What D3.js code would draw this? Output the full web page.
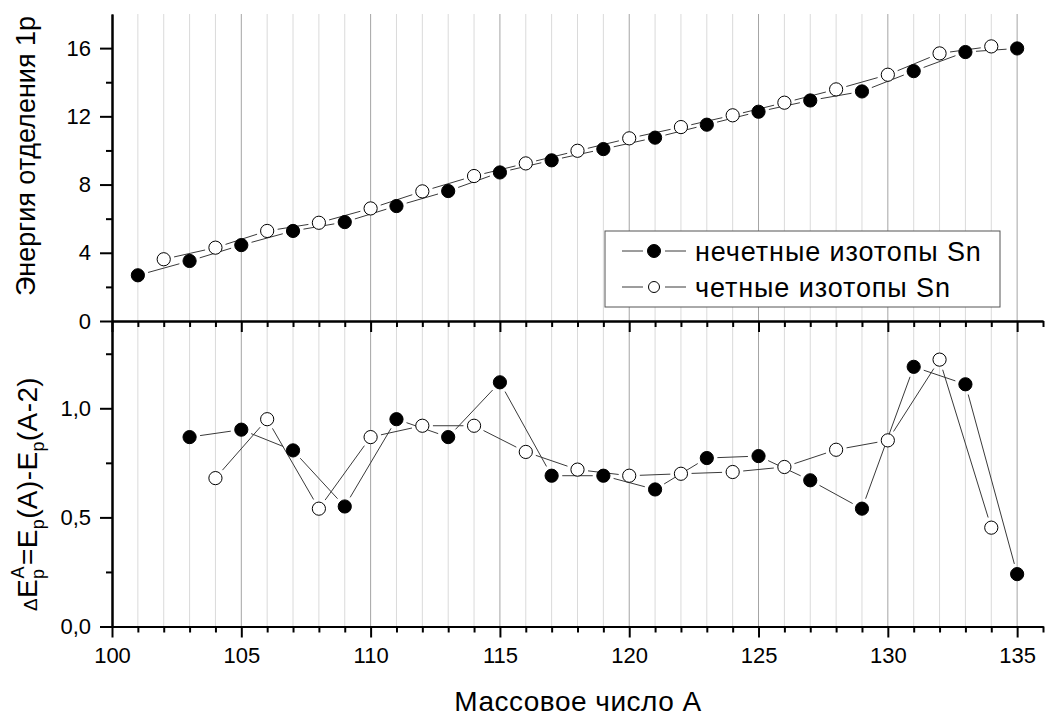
<!DOCTYPE html>
<html>
<head>
<meta charset="utf-8">
<script src="https://cdn.jsdelivr.net/npm/d3@7"></script>
<style>
  html, body { margin: 0; padding: 0; background: #fff; }
  svg { display: block; font-family: "Liberation Sans", Arial, sans-serif; }
</style>
</head>
<body>
<svg id="chart" width="1045" height="717"></svg>
<script>
// Mass numbers and one-proton separation energies (MeV) for Sn isotopes
const massOdd  = [101,103,105,107,109,111,113,115,117,119,121,123,125,127,129,131,133,135];
const sepOdd   = [2.68,3.52,4.45,5.28,5.80,6.74,7.62,8.71,9.42,10.08,10.75,11.51,12.27,12.93,13.46,14.65,15.77,15.98];
const massEven = [102,104,106,108,110,112,114,116,118,120,122,124,126,128,130,132,134];
const sepEven  = [3.62,4.30,5.28,5.76,6.60,7.60,8.50,9.24,9.98,10.71,11.37,12.06,12.80,13.58,14.44,15.69,16.10];

// Differences E_p(A) - E_p(A-2)
const diffMassOdd  = [103,105,107,109,111,113,115,117,119,121,123,125,127,129,131,133,135];
const diffOdd      = [0.868,0.902,0.807,0.550,0.950,0.868,1.119,0.691,0.691,0.628,0.772,0.781,0.670,0.540,1.190,1.110,0.240];
const diffMassEven = [104,106,108,110,112,114,116,118,120,122,124,126,128,130,132,134];
const diffEven     = [0.680,0.950,0.540,0.868,0.920,0.920,0.800,0.719,0.691,0.700,0.708,0.731,0.810,0.853,1.223,0.453];

// Axis ticks
const xMajor = [100,105,110,115,120,125,130,135];
const xMinor = d3.range(101,137).filter(v => v % 5 !== 0);
const yTopMajor = [0,4,8,12,16];
const yTopMinor = [2,6,10,14];
const yBotMajor = [0,0.5,1.0];
const yBotMinor = [0.25,0.75,1.25];

const legendLabels = ["нечетные изотопы Sn", "четные изотопы Sn"];

const svg = d3.select("#chart");
const x = d3.scaleLinear().domain([100,136]).range([112,1043]);
const yTop = d3.scaleLinear().domain([0,18]).range([321,14]);
const yBot = d3.scaleLinear().domain([0,1.4]).range([626.5,321]);

const R = 6.6, GAP = R + 4;
const comma = v => d3.format(".1f")(v).replace(".", ",");

// vertical grid through both panels
svg.append("g").selectAll("line")
  .data(d3.range(101,136))
  .join("line")
  .attr("x1", d => x(d)).attr("x2", d => x(d))
  .attr("y1", yTop(18)).attr("y2", yBot(0))
  .attr("stroke", d => d % 5 === 0 ? "#a4a4a4" : "#dadada")
  .attr("stroke-width", 1);

// polyline drawn as segments that stop short of the markers
function gappedLine(g, xs, ys, yScale) {
  const pts = xs.map((m, i) => [x(m), yScale(ys[i])]);
  const segs = [];
  for (let i = 0; i < pts.length - 1; i++) {
    const [x1,y1] = pts[i], [x2,y2] = pts[i+1];
    const len = Math.hypot(x2-x1, y2-y1);
    if (len <= 2*GAP) continue;
    const ux = (x2-x1)/len, uy = (y2-y1)/len;
    segs.push([x1+ux*GAP, y1+uy*GAP, x2-ux*GAP, y2-uy*GAP]);
  }
  g.append("g").selectAll("line").data(segs).join("line")
    .attr("x1", s => s[0]).attr("y1", s => s[1])
    .attr("x2", s => s[2]).attr("y2", s => s[3])
    .attr("stroke", "#3a3a3a").attr("stroke-width", 1);
}
function markers(g, xs, ys, yScale, filled) {
  g.append("g").selectAll("circle").data(xs).join("circle")
    .attr("cx", (m) => x(m))
    .attr("cy", (m, i) => yScale(ys[i]))
    .attr("r", R)
    .attr("fill", filled ? "#000" : "#fff")
    .attr("stroke", "#000").attr("stroke-width", 1);
}

const plot = svg.append("g");
gappedLine(plot, massOdd, sepOdd, yTop);
gappedLine(plot, massEven, sepEven, yTop);
gappedLine(plot, diffMassOdd, diffOdd, yBot);
gappedLine(plot, diffMassEven, diffEven, yBot);
markers(plot, massEven, sepEven, yTop, false);
markers(plot, massOdd, sepOdd, yTop, true);
markers(plot, diffMassEven, diffEven, yBot, false);
markers(plot, diffMassOdd, diffOdd, yBot, true);

// axes
function styleAxis(g) {
  g.selectAll(".domain").attr("stroke", "#000").attr("stroke-width", 2);
  g.selectAll(".tick line").attr("stroke", "#000").attr("stroke-width", 2);
  g.selectAll("text").attr("font-size", 22).attr("fill", "#000")
    .attr("font-family", "'Liberation Sans', Arial, sans-serif");
}
// top panel left axis
svg.append("g").attr("transform", "translate(112,0)")
  .call(d3.axisLeft(yTop).tickValues(yTopMinor).tickSize(6).tickFormat("").tickSizeOuter(0))
  .call(styleAxis);
svg.append("g").attr("transform", "translate(112,0)")
  .call(d3.axisLeft(yTop).tickValues(yTopMajor).tickSize(12).tickPadding(9).tickFormat(d3.format("d")).tickSizeOuter(0))
  .call(styleAxis);
// bottom panel left axis
svg.append("g").attr("transform", "translate(112,0)")
  .call(d3.axisLeft(yBot).tickValues(yBotMinor).tickSize(6).tickFormat("").tickSizeOuter(0))
  .call(styleAxis);
svg.append("g").attr("transform", "translate(112,0)")
  .call(d3.axisLeft(yBot).tickValues(yBotMajor).tickSize(12).tickPadding(9).tickFormat(comma).tickSizeOuter(0))
  .call(styleAxis);
// shared middle axis and bottom axis
[321, 626.5].forEach((yy, k) => {
  svg.append("g").attr("transform", `translate(0,${yy})`)
    .call(d3.axisBottom(x).tickValues(xMinor).tickSize(6).tickFormat("").tickSizeOuter(0))
    .call(styleAxis);
  svg.append("g").attr("transform", `translate(0,${yy})`)
    .call(d3.axisBottom(x).tickValues(xMajor).tickSize(11).tickPadding(10)
      .tickFormat(k === 1 ? d3.format("d") : "").tickSizeOuter(0))
    .call(styleAxis);
});

// axis titles
svg.append("text")
  .attr("x", 578).attr("y", 711)
  .attr("text-anchor", "middle").attr("font-size", 28)
  .attr("letter-spacing", 0.5)
  .text("Массовое число А");

svg.append("text")
  .attr("transform", "translate(35,156) rotate(-90)")
  .attr("text-anchor", "middle").attr("font-size", 27)
  .text("Энергия отделения 1р");

const lbl = svg.append("text")
  .attr("transform", "translate(37,494) rotate(-90)")
  .attr("text-anchor", "middle").attr("font-size", 28)
  .attr("letter-spacing", 0.4);
lbl.append("tspan").attr("font-size", 19).text("Δ");
lbl.append("tspan").text("E");
lbl.append("tspan").attr("font-size", 18).attr("dy", 7).text("p");
lbl.append("tspan").attr("font-size", 18).attr("dx", -10).attr("dy", -20).text("A");
lbl.append("tspan").attr("dy", 13).attr("dx", 1).text("=E");
lbl.append("tspan").attr("font-size", 18).attr("dy", 7).text("p");
lbl.append("tspan").attr("dy", -7).text("(A)-E");
lbl.append("tspan").attr("font-size", 18).attr("dy", 7).text("p");
lbl.append("tspan").attr("dy", -7).text("(A-2)");

// legend
const lg = svg.append("g");
lg.append("rect").attr("x", 605).attr("y", 231).attr("width", 395).attr("height", 76)
  .attr("fill", "#fff").attr("stroke", "#555").attr("stroke-width", 1);
legendLabels.forEach((t, i) => {
  const cy = 251 + i * 36;
  lg.append("line").attr("x1", 622).attr("x2", 643).attr("y1", cy).attr("y2", cy)
    .attr("stroke", "#3a3a3a").attr("stroke-width", 1);
  lg.append("line").attr("x1", 665).attr("x2", 686).attr("y1", cy).attr("y2", cy)
    .attr("stroke", "#3a3a3a").attr("stroke-width", 1);
  lg.append("circle").attr("cx", 654).attr("cy", cy).attr("r", i === 0 ? 6.5 : 5.5)
    .attr("fill", i === 0 ? "#000" : "#fff").attr("stroke", "#000");
  lg.append("text").attr("x", 695).attr("y", cy + 9.5).attr("font-size", 27)
    .attr("letter-spacing", 0.9).text(t);
});
</script>
</body>
</html>
